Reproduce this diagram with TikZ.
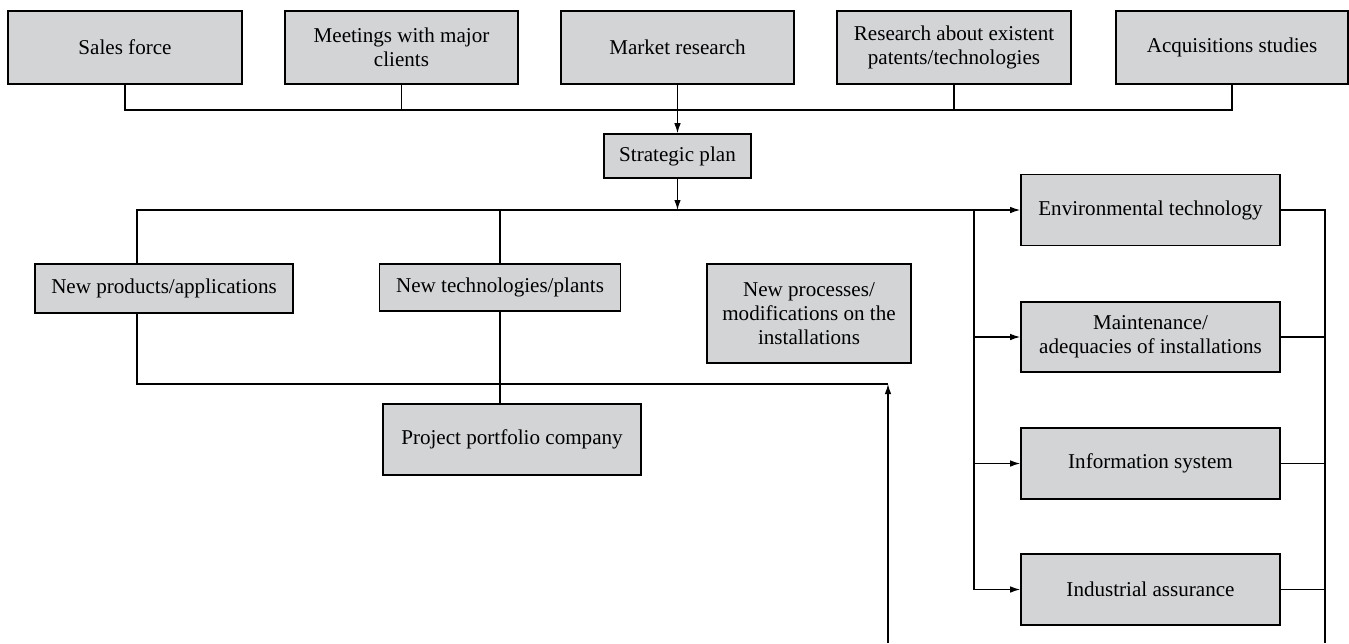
\documentclass[tikz,border=0pt]{standalone}
\usepackage{fontspec}
\setmainfont{Liberation Serif}
\usetikzlibrary{arrows.meta,calc,positioning}
\definecolor{boxgray}{RGB}{211,212,214}
\tikzset{arr/.style={-{Latex[length=2mm,width=1.3mm]}, line width=0.7pt},
  blk/.style={draw, line width=0.9pt, fill=boxgray, inner sep=1pt, align=center,
    font=\fontsize{12}{13.5}\selectfont}}

\begin{document}
\begin{tikzpicture}[line width=0.7pt]
  \useasboundingbox (0,0) rectangle (26.98,-12.86);
  % sources
  \node[blk, minimum width=46.8mm, minimum height=14.6mm] (sales) at (2.5,-0.95) {Sales force};
  \node[blk, minimum width=46.6mm, minimum height=14.6mm] (meet) at (8.03,-0.95) {Meetings with major\\clients};
  \node[blk, minimum width=46.6mm, minimum height=14.6mm] (market) at (13.55,-0.95) {Market research};
  \node[blk, minimum width=46.8mm, minimum height=14.6mm] (patents) at (19.08,-0.95) {Research about existent\\patents/technologies};
  \node[blk, minimum width=46.4mm, minimum height=14.6mm] (acq) at (24.64,-0.95) {Acquisitions studies};
  \node[blk, minimum width=29.4mm, minimum height=8.8mm] (strat) at (13.55,-3.12) {Strategic plan};
  % project types
  \node[blk, minimum width=51.6mm, minimum height=9.8mm] (newprod) at (3.28,-5.77) {New products/applications};
  \node[blk, minimum width=48.2mm, minimum height=9.4mm] (newtech) at (10.0,-5.75) {New technologies/plants};
  \node[blk, minimum width=40.8mm, minimum height=19.8mm] (newproc) at (16.18,-6.27) {New processes/\\modifications on the\\installations};
  \node[blk, minimum width=51.6mm, minimum height=14.2mm] (portf) at (10.24,-8.79) {Project portfolio company};
  % support areas
  \node[blk, minimum width=51.8mm, minimum height=14.2mm] (env) at (23.01,-4.2) {Environmental technology};
  \node[blk, minimum width=51.8mm, minimum height=14mm] (maint) at (23.01,-6.74) {Maintenance/\\adequacies of installations};
  \node[blk, minimum width=51.8mm, minimum height=14.2mm] (info) at (23.01,-9.27) {Information system};
  \node[blk, minimum width=51.8mm, minimum height=14.2mm] (indus) at (23.01,-11.79) {Industrial assurance};
  % helper points
  \coordinate (topbus) at (0,-2.2);
  \coordinate (pl) at (2.74,-4.2);
  \coordinate (vl) at (19.48,-4.2);
  \coordinate (vr) at (26.5,-12.86);
  \coordinate (lowbus) at (17.76,-7.68);
  % connectors
  \draw (sales.south) |- (acq.south |- topbus) -- (acq.south);
  \draw (meet.south) -- (meet.south |- topbus);
  \draw (patents.south) -- (patents.south |- topbus);
  \draw[arr] (market.south) -- (strat.north);
  \draw[arr] (strat.south) -- (strat.south |- env.west);
  \draw[arr] (pl |- newprod.north) |- (env.west);
  \draw (newtech.north) -- (newtech.north |- env.west);
  \draw[arr] (vl) |- (indus.west);
  \draw[arr] (vl |- maint.west) -- (maint.west);
  \draw[arr] (vl |- info.west) -- (info.west);
  \draw (env.east) -| (vr);
  \draw (maint.east) -- (maint.east -| vr);
  \draw (info.east) -- (info.east -| vr);
  \draw (indus.east) -- (indus.east -| vr);
  \draw (pl |- newprod.south) |- (lowbus);
  \draw (newtech.south) -- (newtech.south |- portf.north);
  \draw[arr] (lowbus |- vr) -- (lowbus);
\end{tikzpicture}
\end{document}
